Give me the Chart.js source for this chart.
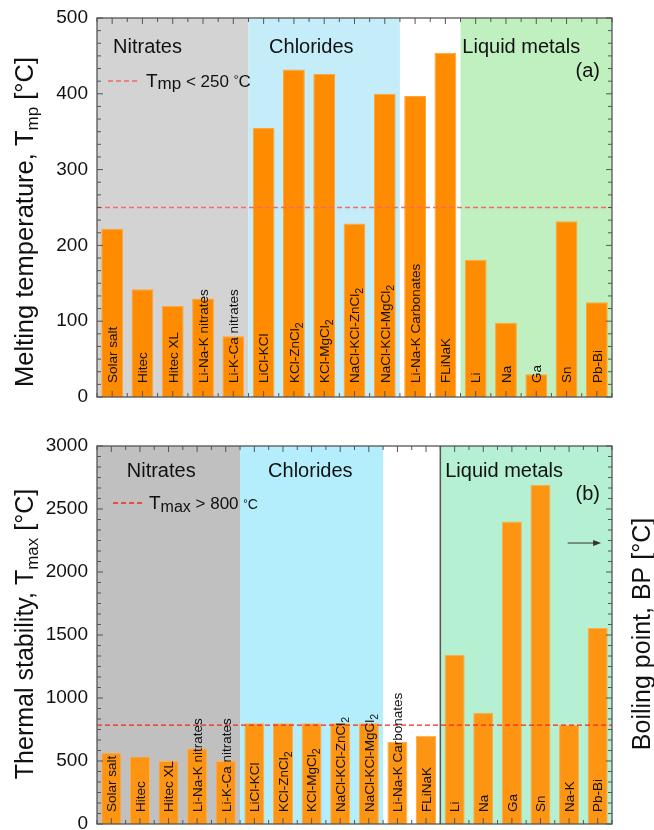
<!DOCTYPE html>
<html>
<head>
<meta charset="UTF-8">
<script src="https://cdn.jsdelivr.net/npm/chart.js@4.4.0/dist/chart.umd.min.js"></script>
<style>
	body { margin: 0; background: #fff; }
	.panel { position: absolute; left: 0; width: 654px; }
</style>
</head>
<body>
<div class="panel" style="top: 0; height: 410px;"><canvas id="meltChart"></canvas></div>
<div class="panel" style="top: 410px; height: 420px;"><canvas id="stabChart"></canvas></div>

<script>
var FONT = '"Liberation Sans", Arial, sans-serif';

// (a) melting temperature, degC  ("_" marks a subscript)
var meltLabels = ['Solar salt', 'Hitec', 'Hitec XL', 'Li-Na-K nitrates', 'Li-K-Ca nitrates',
	'LiCl-KCl', 'KCl-ZnCl_2', 'KCl-MgCl_2', 'NaCl-KCl-ZnCl_2', 'NaCl-KCl-MgCl_2',
	'Li-Na-K Carbonates', 'FLiNaK', 'Li', 'Na', 'Ga', 'Sn', 'Pb-Bi'];
var meltValues = [222, 142, 120, 130, 80, 355, 432, 426, 229, 400, 397, 454, 181, 98, 30, 232, 125];
var meltTicks = [0, 100, 200, 300, 400, 500];
var meltLimit = 250;

// (b) thermal stability (salts) / boiling point (metals), degC
var stabLabels = ['Solar salt', 'Hitec', 'Hitec XL', 'Li-Na-K nitrates', 'Li-K-Ca nitrates',
	'LiCl-KCl', 'KCl-ZnCl_2', 'KCl-MgCl_2', 'NaCl-KCl-ZnCl_2', 'NaCl-KCl-MgCl_2',
	'Li-Na-K Carbonates', 'FLiNaK', 'Li', 'Na', 'Ga', 'Sn', 'Na-K', 'Pb-Bi'];
var stabValues = [565, 535, 500, 600, 500, 800, 800, 800, 800, 800, 650, 700, 1342, 883, 2400, 2690, 785, 1555];
var stabTicks = [0, 500, 1000, 1500, 2000, 2500, 3000];
var stabLimit = 785;

// material groups: names and category edges
var groupNames = ['Nitrates', 'Chlorides', '', 'Liquid metals'];
var meltGroupEdges = [-0.5, 4.5, 9.5, 11.5, 16.5];
var stabGroupEdges = [-0.5, 4.5, 9.5, 11.5, 17.5];

// split "KCl-ZnCl_2" into normal + subscript runs
function labelParts(str, size) {
	var bits = str.split('_');
	var parts = [{t: bits[0], size: size}];
	if (bits[1]) parts.push({t: bits[1], size: size * 0.78, dy: size * 0.3});
	return parts;
}

// draw a run of text pieces with their own sizes / vertical offsets
function drawRich(ctx, parts, x, y, angle, align, color) {
	ctx.save();
	ctx.translate(x, y);
	ctx.rotate(angle);
	ctx.fillStyle = color || '#111';
	ctx.textAlign = 'left';
	ctx.textBaseline = 'alphabetic';
	var w = 0;
	parts.forEach(function (p) {
		ctx.font = p.size + 'px ' + FONT;
		p.w = ctx.measureText(p.t).width;
		w += p.w;
	});
	var cx = align === 'center' ? -w / 2 : (align === 'right' ? -w : 0);
	parts.forEach(function (p) {
		ctx.font = p.size + 'px ' + FONT;
		ctx.fillText(p.t, cx, p.dy || 0);
		cx += p.w;
	});
	ctx.restore();
}

var panelDecor = {
	id: 'panelDecor',
	beforeDatasetsDraw: function (chart, args, o) {
		var ctx = chart.ctx, a = chart.chartArea, x = chart.scales.x;
		ctx.save();
		for (var i = 0; i < o.groupColors.length; i++) {
			var x0 = x.getPixelForValue(o.edges[i]), x1 = x.getPixelForValue(o.edges[i + 1]);
			ctx.fillStyle = o.groupColors[i];
			ctx.fillRect(x0, a.top, x1 - x0, a.bottom - a.top);
		}
		if (o.metalEdgeLine) {
			var xe = x.getPixelForValue(o.edges[3]);
			ctx.strokeStyle = '#555';
			ctx.lineWidth = 1.5;
			ctx.beginPath();
			ctx.moveTo(xe, a.top);
			ctx.lineTo(xe, a.bottom);
			ctx.stroke();
		}
		ctx.restore();
	},
	afterDatasetsDraw: function (chart, args, o) {
		var ctx = chart.ctx, a = chart.chartArea, x = chart.scales.x, y = chart.scales.y;
		var n = chart.data.labels.length;
		ctx.save();

		// threshold line
		var yl = y.getPixelForValue(o.limit);
		ctx.strokeStyle = o.limitColor;
		ctx.lineWidth = 1.4;
		ctx.setLineDash([5, 3]);
		ctx.beginPath();
		ctx.moveTo(a.left, yl);
		ctx.lineTo(a.right, yl);
		ctx.stroke();

		// legend entry for the threshold
		ctx.beginPath();
		ctx.moveTo(a.left + o.legendX0, a.top + o.legendY);
		ctx.lineTo(a.left + o.legendX1, a.top + o.legendY);
		ctx.stroke();
		ctx.setLineDash([]);
		drawRich(ctx, o.legendParts, a.left + o.legendX1 + 6, a.top + o.legendY + 6, 0, 'left');

		// category labels written upward inside the bars
		chart.data.labels.forEach(function (lab, i) {
			var px = x.getPixelForValue(i);
			drawRich(ctx, labelParts(lab, 13.5), px + 4.8, a.bottom - o.labelGap, -Math.PI / 2, 'left');
		});

		// group names
		for (var g = 0; g < groupNames.length; g++) {
			if (!groupNames[g]) continue;
			drawRich(ctx, [{t: groupNames[g], size: 20}], x.getPixelForValue(o.nameAt[g]),
				a.top + o.nameY, 0, 'left');
		}

		// panel letter
		drawRich(ctx, [{t: o.letter, size: 20}], a.right - 12, a.top + o.letterY, 0, 'right');

		// arrow pointing to the right-hand axis
		if (o.arrow) {
			var ax0 = x.getPixelForValue(o.arrow[0]), ax1 = x.getPixelForValue(o.arrow[1]);
			var ay = y.getPixelForValue(o.arrow[2]);
			ctx.strokeStyle = '#333';
			ctx.fillStyle = '#333';
			ctx.lineWidth = 1;
			ctx.beginPath();
			ctx.moveTo(ax0, ay);
			ctx.lineTo(ax1 - 4, ay);
			ctx.stroke();
			ctx.beginPath();
			ctx.moveTo(ax1, ay);
			ctx.lineTo(ax1 - 8, ay - 3);
			ctx.lineTo(ax1 - 8, ay + 3);
			ctx.closePath();
			ctx.fill();
		}

		// frame and inward ticks
		ctx.strokeStyle = '#555';
		ctx.lineWidth = 1.3;
		ctx.strokeRect(a.left, a.top, a.right - a.left, a.bottom - a.top);
		ctx.lineWidth = 1;
		ctx.beginPath();
		var major = o.ticks[1] - o.ticks[0];
		var steps = (o.ticks.length - 1) * 6;
		for (var k = 0; k <= steps; k++) {
			var py = y.getPixelForValue(k * major / 6);
			var len = k % 6 === 0 ? 6 : 4;
			ctx.moveTo(a.left, py); ctx.lineTo(a.left + len, py);
			ctx.moveTo(a.right, py); ctx.lineTo(a.right - len, py);
		}
		for (var j = -0.5; j <= n - 0.5; j += 0.5) {
			var px2 = x.getPixelForValue(j);
			var l2 = Number.isInteger(j) ? 6 : 4;
			ctx.moveTo(px2, a.bottom); ctx.lineTo(px2, a.bottom - l2);
			ctx.moveTo(px2, a.top); ctx.lineTo(px2, a.top + l2);
		}
		ctx.stroke();

		// axis titles
		drawRich(ctx, o.yTitle, 33, o.yTitleY, -Math.PI / 2, 'center');
		if (o.rTitle) drawRich(ctx, o.rTitle, 650, o.rTitleY, -Math.PI / 2, 'center');
		ctx.restore();
	}
};

function makeChart(id, labels, values, ticks, barColor, barEdge, barPct, pad, decor) {
	return new Chart(document.getElementById(id), {
		type: 'bar',
		data: {
			labels: labels,
			datasets: [{
				data: values,
				backgroundColor: barColor,
				borderColor: barEdge,
				borderWidth: 1,
				barPercentage: barPct,
				categoryPercentage: 1
			}]
		},
		options: {
			responsive: true,
			maintainAspectRatio: false,
			animation: false,
			layout: {padding: pad},
			plugins: {
				legend: {display: false},
				tooltip: {enabled: false},
				panelDecor: decor
			},
			scales: {
				x: {
					grid: {display: false},
					border: {display: false},
					ticks: {display: false},
					afterFit: function (s) { s.height = 0; s.paddingLeft = 0; s.paddingRight = 0; }
				},
				y: {
					min: ticks[0],
					max: ticks[ticks.length - 1],
					grid: {display: false, drawTicks: false},
					border: {display: false},
					ticks: {
						stepSize: ticks[1] - ticks[0],
						font: {size: 19, family: FONT},
						color: '#111',
						padding: 9,
						callback: function (v) { return String(v); }
					},
					afterFit: function (s) { s.width = 97; s.paddingTop = 0; s.paddingBottom = 0; }
				}
			}
		},
		plugins: [panelDecor]
	});
}

makeChart('meltChart', meltLabels, meltValues, meltTicks, '#FF8C00', '#FFA53A', 0.72,
	{top: 18, right: 42, bottom: 13, left: 0}, {
		edges: meltGroupEdges,
		groupColors: ['#D3D3D3', '#C4EDF9', '#FFFFFF', '#C0F0C0'],
		limit: meltLimit,
		limitColor: '#F06A6A',
		legendX0: 11, legendX1: 43, legendY: 63,
		legendParts: [{t: 'T', size: 19}, {t: 'mp', size: 17, dy: 2}, {t: ' < 250 ', size: 17},
			{t: '°', size: 12, dy: -3}, {t: 'C', size: 17}],
		labelGap: 14,
		nameAt: [0.03, 5.18, 0, 11.56],
		nameY: 35,
		letter: '(a)',
		letterY: 59,
		ticks: meltTicks,
		yTitle: [{t: 'Melting temperature, T', size: 25.5}, {t: 'mp', size: 17, dy: 5}, {t: ' [°C]', size: 25.5}],
		yTitleY: 222
	});

makeChart('stabChart', stabLabels, stabValues, stabTicks, '#FD9412', '#FFAE4A', 0.7,
	{top: 36, right: 42, bottom: 6, left: 0}, {
		edges: stabGroupEdges,
		groupColors: ['#C0C0C0', '#B4EEFC', '#FFFFFF', '#B4F0D1'],
		metalEdgeLine: true,
		limit: stabLimit,
		limitColor: '#F52525',
		legendX0: 16, legendX1: 46, legendY: 57,
		legendParts: [{t: 'T', size: 19}, {t: 'max', size: 16, dy: 3}, {t: ' > 800 ', size: 17},
			{t: '°', size: 11, dy: -2}, {t: 'C', size: 14}],
		labelGap: 12,
		nameAt: [0.54, 5.48, 0, 11.67],
		nameY: 31,
		letter: '(b)',
		letterY: 54,
		arrow: [15.95, 17.12, 2230],
		ticks: stabTicks,
		yTitle: [{t: 'Thermal stability, T', size: 25}, {t: 'max', size: 17, dy: 5}, {t: ' [°C]', size: 25}],
		yTitleY: 224,
		rTitle: [{t: 'Boiling point, BP [°C]', size: 25}],
		rTitleY: 224
	});
</script>
</body>
</html>
